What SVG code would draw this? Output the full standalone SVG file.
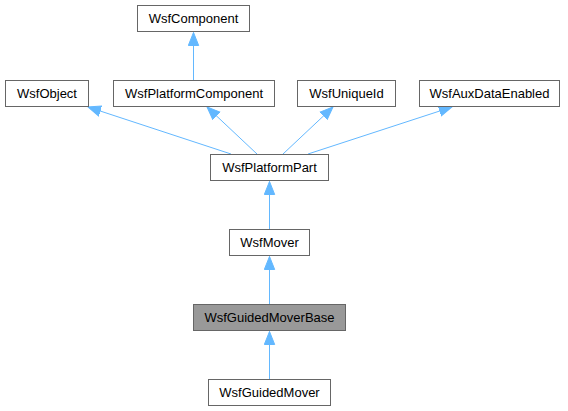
<svg xmlns="http://www.w3.org/2000/svg" width="568" height="411" viewBox="0 0 568 411">
<style>
.n rect{fill:#fff;stroke:#666;stroke-width:1}
.n.h rect{fill:#999}
.n text{font-family:"Liberation Sans",Arial,sans-serif;font-size:13px;fill:#000;text-anchor:middle}
.e path{fill:none;stroke:#63b8ff;stroke-width:1;marker-end:url(#a)}
</style>
<defs>
<marker id="a" markerUnits="userSpaceOnUse" markerWidth="14" markerHeight="12" refX="13" refY="6" orient="auto">
<path d="M0,0.8 L13,6 L0,11.2 z" fill="#63b8ff" stroke="#63b8ff" stroke-width="1"/>
</marker>
</defs>
<rect width="568" height="411" fill="#fff"/>
<g class="e" id="edges">
<path d="M193.5,80 L193.5,32.5"/>
<path d="M231,154 L88,107"/>
<path d="M257,154 L207,107"/>
<path d="M283,154 L333,107"/>
<path d="M308,154 L452,107"/>
<path d="M269.5,229 L269.5,181.5"/>
<path d="M269.5,304 L269.5,256.5"/>
<path d="M269.5,379 L269.5,331.5"/>
</g>
<g class="n" id="WsfComponent"><rect x="137.5" y="5.5" width="112" height="26"/><text x="193.5" y="23">WsfComponent</text></g>
<g class="n" id="WsfObject"><rect x="5.5" y="80.5" width="83" height="26"/><text x="47" y="98">WsfObject</text></g>
<g class="n" id="WsfPlatformComponent"><rect x="113.5" y="80.5" width="161" height="26"/><text x="194" y="98">WsfPlatformComponent</text></g>
<g class="n" id="WsfUniqueId"><rect x="297.5" y="80.5" width="98" height="26"/><text x="346.5" y="98">WsfUniqueId</text></g>
<g class="n" id="WsfAuxDataEnabled"><rect x="419.5" y="80.5" width="140" height="26"/><text x="489.5" y="98">WsfAuxDataEnabled</text></g>
<g class="n" id="WsfPlatformPart"><rect x="210.5" y="154.5" width="118" height="26"/><text x="269.5" y="172">WsfPlatformPart</text></g>
<g class="n" id="WsfMover"><rect x="229.5" y="229.5" width="80" height="26"/><text x="269.5" y="247">WsfMover</text></g>
<g class="n h" id="WsfGuidedMoverBase"><rect x="193.5" y="304.5" width="152" height="26"/><text x="269.5" y="322">WsfGuidedMoverBase</text></g>
<g class="n" id="WsfGuidedMover"><rect x="208.5" y="379.5" width="122" height="26"/><text x="269.5" y="397">WsfGuidedMover</text></g>
</svg>
